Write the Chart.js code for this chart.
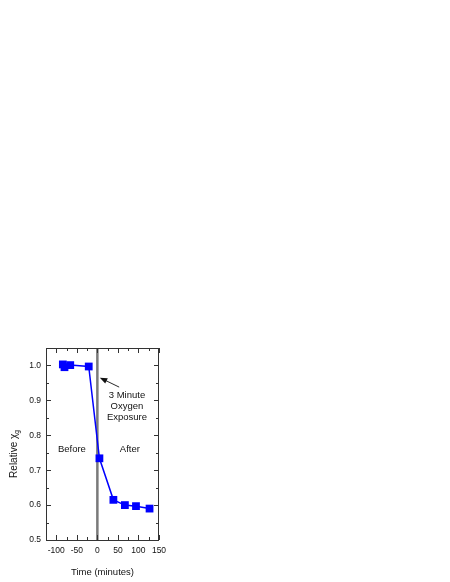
<!DOCTYPE html>
<html>
<head>
<meta charset="utf-8">
<script src="https://cdn.jsdelivr.net/npm/chart.js@4/dist/chart.umd.min.js"></script>
<style>
  body { margin: 0; background: #fff; }
</style>
</head>
<body>
<canvas id="chiChart" width="450" height="582"></canvas>
<script>
// time in minutes relative to the oxygen exposure, and relative chi_g
var times = [-84, -80, -66, -21, 5, 39, 67, 94, 127];
var chiValues = [1.003, 0.995, 1.001, 0.997, 0.734, 0.615, 0.600, 0.597, 0.590];

var xTicks = [-100, -50, 0, 50, 100, 150];
var xMinor = [-125, -75, -25, 25, 75, 125];
var yTicks = [0.5, 0.6, 0.7, 0.8, 0.9, 1.0];
var yMinor = [0.55, 0.65, 0.75, 0.85, 0.95, 1.05];

var exposureTime = 0;

var FONT = "'Liberation Sans', Arial, sans-serif";

var decorPlugin = {
    id: 'decor',
    beforeDatasetsDraw: function (chart) {
        var ctx = chart.ctx;
        var xs = chart.scales.x;
        var a = chart.chartArea;
        ctx.save();
        // exposure marker line
        ctx.strokeStyle = '#7a7a7a';
        ctx.lineWidth = 2.5;
        var x0 = xs.getPixelForValue(exposureTime);
        ctx.beginPath();
        ctx.moveTo(x0, a.top);
        ctx.lineTo(x0, a.bottom);
        ctx.stroke();
        ctx.restore();
    },
    afterDatasetsDraw: function (chart) {
        var ctx = chart.ctx;
        var xs = chart.scales.x, ys = chart.scales.y;
        var a = chart.chartArea;
        ctx.save();
        // box
        ctx.strokeStyle = '#333';
        ctx.lineWidth = 1;
        ctx.strokeRect(a.left + 0.5, a.top + 0.5, a.right - a.left - 1, a.bottom - a.top);

        // inward ticks on all four sides
        ctx.beginPath();
        xTicks.concat(xMinor).forEach(function (v) {
            var len = xTicks.indexOf(v) >= 0 ? 5 : 3;
            var px = Math.round(xs.getPixelForValue(v)) + 0.5;
            ctx.moveTo(px, a.bottom); ctx.lineTo(px, a.bottom - len);
            ctx.moveTo(px, a.top); ctx.lineTo(px, a.top + len);
        });
        yTicks.concat(yMinor).forEach(function (v) {
            var len = yTicks.indexOf(v) >= 0 ? 5 : 3;
            var py = Math.round(ys.getPixelForValue(v)) + 0.5;
            ctx.moveTo(a.left, py); ctx.lineTo(a.left + len, py);
            ctx.moveTo(a.right, py); ctx.lineTo(a.right - len, py);
        });
        ctx.stroke();

        // annotations
        ctx.fillStyle = '#111';
        ctx.font = '9.5px ' + FONT;
        ctx.textAlign = 'center';
        ctx.textBaseline = 'middle';
        var noteX = xs.getPixelForValue(72);
        ['3 Minute', 'Oxygen', 'Exposure'].forEach(function (t, i) {
            ctx.fillText(t, noteX, ys.getPixelForValue(0.914) + i * 11);
        });
        ctx.fillText('Before', xs.getPixelForValue(-62), ys.getPixelForValue(0.76));
        ctx.fillText('After', xs.getPixelForValue(79), ys.getPixelForValue(0.76));

        // arrow
        var tx = xs.getPixelForValue(6), ty = ys.getPixelForValue(0.965);
        var fx = xs.getPixelForValue(53), fy = ys.getPixelForValue(0.938);
        var ang = Math.atan2(ty - fy, tx - fx);
        ctx.strokeStyle = '#111';
        ctx.lineWidth = 0.9;
        ctx.beginPath();
        ctx.moveTo(fx, fy);
        ctx.lineTo(tx - 4 * Math.cos(ang), ty - 4 * Math.sin(ang));
        ctx.stroke();
        ctx.beginPath();
        ctx.moveTo(tx, ty);
        ctx.lineTo(tx - 8 * Math.cos(ang - 0.38), ty - 8 * Math.sin(ang - 0.38));
        ctx.lineTo(tx - 8 * Math.cos(ang + 0.38), ty - 8 * Math.sin(ang + 0.38));
        ctx.closePath();
        ctx.fill();

        // y axis title with subscript
        ctx.translate(14, (a.top + a.bottom) / 2 + 10);
        ctx.rotate(-Math.PI / 2);
        ctx.textAlign = 'left';
        ctx.font = '10px ' + FONT;
        var main = 'Relative \u03C7';
        var w = ctx.measureText(main).width;
        ctx.font = '6.5px ' + FONT;
        var wSub = ctx.measureText('g').width;
        var start = -(w + wSub) / 2;
        ctx.font = '10px ' + FONT;
        ctx.fillText(main, start, 0);
        ctx.font = '6.5px ' + FONT;
        ctx.fillText('g', start + w, 3);
        ctx.restore();
    }
};

var chart = new Chart(document.getElementById('chiChart'), {
    type: 'scatter',
    data: {
        datasets: [{
            data: times.map(function (t, i) { return { x: t, y: chiValues[i] }; }),
            showLine: true,
            borderColor: '#0000ff',
            borderWidth: 1.5,
            backgroundColor: '#0000ff',
            pointStyle: 'rect',
            pointRadius: 5.5,
            pointBorderWidth: 0
        }]
    },
    options: {
        responsive: false,
        animation: false,
        layout: { padding: { left: 0, top: 348, right: 291, bottom: 0 } },
        plugins: {
            legend: { display: false },
            tooltip: { enabled: false }
        },
        scales: {
            x: {
                type: 'linear',
                min: -125,
                max: 150,
                afterBuildTicks: function (scale) {
                    scale.ticks = xTicks.map(function (v) { return { value: v }; });
                },
                afterFit: function (scale) { scale.height = 42; },
                grid: { display: false, drawTicks: false },
                border: { display: false },
                ticks: {
                    padding: 6,
                    maxRotation: 0,
                    autoSkip: false,
                    color: '#111',
                    font: { family: FONT, size: 8.5 }
                },
                title: {
                    display: true,
                    text: 'Time (minutes)',
                    color: '#111',
                    padding: { top: 4 },
                    font: { family: FONT, size: 9.5 }
                }
            },
            y: {
                type: 'linear',
                min: 0.5,
                max: 1.05,
                afterBuildTicks: function (scale) {
                    scale.ticks = yTicks.map(function (v) { return { value: v }; });
                },
                afterFit: function (scale) { scale.width = 46; },
                grid: { display: false, drawTicks: false },
                border: { display: false },
                ticks: {
                    padding: 5,
                    autoSkip: false,
                    color: '#111',
                    font: { family: FONT, size: 8.5 },
                    callback: function (v) { return v.toFixed(1); }
                }
            }
        }
    },
    plugins: [decorPlugin]
});
</script>
</body>
</html>
